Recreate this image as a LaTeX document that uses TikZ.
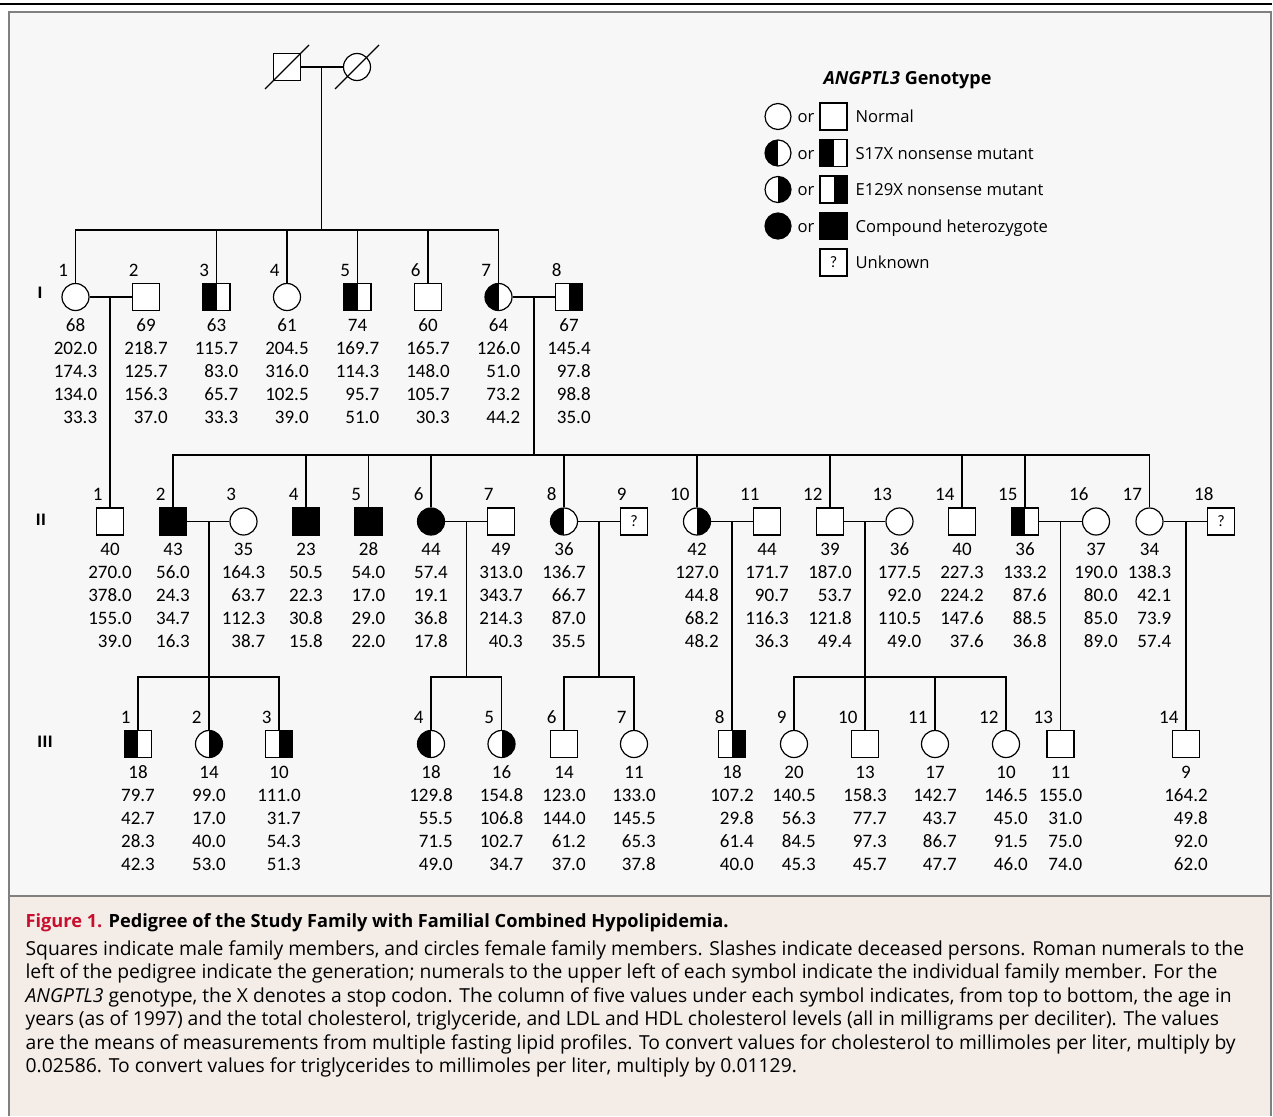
\documentclass[tikz,border=0pt]{standalone}
\usepackage{fontspec}
\setmainfont{Open Sans}
\newfontfamily\numfont{Carlito}

\definecolor{pedbg}{HTML}{F7F7F7}
\definecolor{capbg}{HTML}{F3ECE7}
\definecolor{figred}{HTML}{C8102E}
\definecolor{framegray}{HTML}{808080}

\tikzset{
  male/.style={draw, rectangle, minimum size=27, inner sep=0, fill=white},
  female/.style={draw, circle, minimum size=27, inner sep=0, fill=white},
  sx/.style={path picture={\fill[black] (path picture bounding box.south west) rectangle (path picture bounding box.north);}},
  ex/.style={path picture={\fill[black] (path picture bounding box.south) rectangle (path picture bounding box.north east);}},
  cx/.style={fill=black},
  num/.style={font=\numfont\fontsize{19}{23}\selectfont, inner sep=0, anchor=base east},
  vals/.style={font=\numfont\fontsize{19}{23}\selectfont, inner sep=0, anchor=base},
  gen/.style={font=\bfseries\fontsize{16}{20}\selectfont, inner sep=0},
  leg/.style={font=\fontsize{16.6}{21}\selectfont, inner sep=0, anchor=base west},
  captxt/.style={font=\fontsize{19.3}{23.5}\selectfont, inner sep=0, anchor=base west},
}

% person symbol with its number at the upper left
\newcommand{\mem}[6][]{%
  \node[#5] (#2) at (#3,#4) {#1};
  \node[num] (#2n) at (#3-7,#4-21) {#6};}
% age and lipid values under a symbol
\newcommand{\lipids}[6]{%
  \node[vals] (#1v) at ([yshift=-34pt]#1.center)
    {\begin{tabular}[t]{@{}r@{}}\multicolumn{1}{@{}c@{}}{#2}\\#3\\#4\\#5\\#6\end{tabular}};}
\newcommand{\unk}{{\numfont\fontsize{16}{16}\selectfont ?}}

\begin{document}
\begin{tikzpicture}[x=1pt, y=-1pt, line width=1.2pt]
  \useasboundingbox (0,0) rectangle (1273,1116);

  % Panels
  \fill[pedbg] (9,12) rectangle (1271,896);
  \fill[capbg] (9,896) rectangle (1271,1116);
  \draw[framegray, line width=1.6pt] (9,1116) -- (9,12) -- (1271,12) -- (1271,1116);
  \draw[framegray, line width=1.6pt] (9,896) -- (1271,896);
  \draw[line width=1.5pt] (0,4) -- (1272,4);

  % Founders
  \node[male] (gf) at (287,67) {};
  \node[female] (gm) at (357,67) {};
  \draw (gf.center) ++(-22,22) -- ++(44,-44);
  \draw (gm.center) ++(-22,22) -- ++(44,-44);

  % Generation I
  \node[gen] (gI) at (40,293) {I};
  \mem{I1}{75.5}{297}{female}{1}   \lipids{I1}{68}{202.0}{174.3}{134.0}{33.3}
  \mem{I2}{146}{297}{male}{2}      \lipids{I2}{69}{218.7}{125.7}{156.3}{37.0}
  \mem{I3}{216.5}{297}{male,sx}{3} \lipids{I3}{63}{115.7}{83.0}{65.7}{33.3}
  \mem{I4}{287}{297}{female}{4}    \lipids{I4}{61}{204.5}{316.0}{102.5}{39.0}
  \mem{I5}{357.5}{297}{male,sx}{5} \lipids{I5}{74}{169.7}{114.3}{95.7}{51.0}
  \mem{I6}{428}{297}{male}{6}      \lipids{I6}{60}{165.7}{148.0}{105.7}{30.3}
  \mem{I7}{498.5}{297}{female,sx}{7} \lipids{I7}{64}{126.0}{51.0}{73.2}{44.2}
  \mem{I8}{569}{297}{male,ex}{8}   \lipids{I8}{67}{145.4}{97.8}{98.8}{35.0}

  % Generation II
  \node[gen] (gII) at (41,519.5) {II};
  \mem{II1}{110}{521.5}{male}{1}      \lipids{II1}{40}{270.0}{378.0}{155.0}{39.0}
  \mem{II2}{173}{521.5}{male,cx}{2}   \lipids{II2}{43}{56.0}{24.3}{34.7}{16.3}
  \mem{II3}{243.5}{521.5}{female}{3}  \lipids{II3}{35}{164.3}{63.7}{112.3}{38.7}
  \mem{II4}{306}{521.5}{male,cx}{4}   \lipids{II4}{23}{50.5}{22.3}{30.8}{15.8}
  \mem{II5}{368.5}{521.5}{male,cx}{5} \lipids{II5}{28}{54.0}{17.0}{29.0}{22.0}
  \mem{II6}{431}{521.5}{female,cx}{6} \lipids{II6}{44}{57.4}{19.1}{36.8}{17.8}
  \mem{II7}{501}{521.5}{male}{7}      \lipids{II7}{49}{313.0}{343.7}{214.3}{40.3}
  \mem{II8}{564}{521.5}{female,sx}{8} \lipids{II8}{36}{136.7}{66.7}{87.0}{35.5}
  \mem[\unk]{II9}{634}{521.5}{male}{9}
  \mem{II10}{697}{521.5}{female,ex}{10} \lipids{II10}{42}{127.0}{44.8}{68.2}{48.2}
  \mem{II11}{767}{521.5}{male}{11}      \lipids{II11}{44}{171.7}{90.7}{116.3}{36.3}
  \mem{II12}{830}{521.5}{male}{12}      \lipids{II12}{39}{187.0}{53.7}{121.8}{49.4}
  \mem{II13}{899.5}{521.5}{female}{13}  \lipids{II13}{36}{177.5}{92.0}{110.5}{49.0}
  \mem{II14}{962}{521.5}{male}{14}      \lipids{II14}{40}{227.3}{224.2}{147.6}{37.6}
  \mem{II15}{1025}{521.5}{male,sx}{15}  \lipids{II15}{36}{133.2}{87.6}{88.5}{36.8}
  \mem{II16}{1096}{521.5}{female}{16}   \lipids{II16}{37}{190.0}{80.0}{85.0}{89.0}
  \mem{II17}{1149.5}{521.5}{female}{17} \lipids{II17}{34}{138.3}{42.1}{73.9}{57.4}
  \mem[\unk]{II18}{1221}{521.5}{male}{18}

  % Generation III
  \node[gen] (gIII) at (45,741.5) {III};
  \mem{III1}{138}{744}{male,sx}{1}     \lipids{III1}{18}{79.7}{42.7}{28.3}{42.3}
  \mem{III2}{209}{744}{female,ex}{2}   \lipids{III2}{14}{99.0}{17.0}{40.0}{53.0}
  \mem{III3}{279}{744}{male,ex}{3}     \lipids{III3}{10}{111.0}{31.7}{54.3}{51.3}
  \mem{III4}{431}{744}{female,sx}{4}   \lipids{III4}{18}{129.8}{55.5}{71.5}{49.0}
  \mem{III5}{501.5}{744}{female,ex}{5} \lipids{III5}{16}{154.8}{106.8}{102.7}{34.7}
  \mem{III6}{564}{744}{male}{6}        \lipids{III6}{14}{123.0}{144.0}{61.2}{37.0}
  \mem{III7}{634}{744}{female}{7}      \lipids{III7}{11}{133.0}{145.5}{65.3}{37.8}
  \mem{III8}{732}{744}{male,ex}{8}     \lipids{III8}{18}{107.2}{29.8}{61.4}{40.0}
  \mem{III9}{794}{744}{female}{9}      \lipids{III9}{20}{140.5}{56.3}{84.5}{45.3}
  \mem{III10}{865}{744}{male}{10}      \lipids{III10}{13}{158.3}{77.7}{97.3}{45.7}
  \mem{III11}{935}{744}{female}{11}    \lipids{III11}{17}{142.7}{43.7}{86.7}{47.7}
  \mem{III12}{1006}{744}{female}{12}   \lipids{III12}{10}{146.5}{45.0}{91.5}{46.0}
  \mem{III13}{1060.5}{744}{male}{13}   \lipids{III13}{11}{155.0}{31.0}{75.0}{74.0}
  \mem{III14}{1186}{744}{male}{14}     \lipids{III14}{9}{164.2}{49.8}{92.0}{62.0}

  % Lines of descent
  \draw (gf) -- (gm);
  \coordinate (c0) at (321.5,67);
  \coordinate (s0) at (321.5,230);
  \draw (c0) -- (s0);
  \draw (I1) |- (s0) -| (I7);
  \foreach \k in {3,4,5,6} \draw (s0 -| I\k) -- (I\k);

  \draw (I1) -- (I2);
  \coordinate (c1) at (110,297);
  \draw (c1) -- (II1);
  \draw (I7) -- (I8);
  \coordinate (c7) at (534,297);
  \coordinate (s7) at (534,455);
  \draw (c7) -- (s7);
  \draw (II2) |- (s7) -| (II17);
  \foreach \k in {4,5,6,8,10,12,14,15} \draw (s7 -| II\k) -- (II\k);

  \draw (II2) -- (II3);
  \coordinate (c2) at (209,521.5);
  \coordinate (s2) at (209,677);
  \draw (c2) -- (III2);
  \draw (III1) |- (s2) -| (III3);
  \draw (II6) -- (II7);
  \coordinate (c6) at (466.5,521.5);
  \coordinate (s6) at (466.5,677);
  \draw (c6) -- (s6);
  \draw (III4) |- (s6) -| (III5);
  \draw (II8) -- (II9);
  \coordinate (c8) at (599,521.5);
  \coordinate (s8) at (599,677);
  \draw (c8) -- (s8);
  \draw (III6) |- (s8) -| (III7);
  \draw (II10) -- (II11);
  \coordinate (c10) at (732,521.5);
  \draw (c10) -- (III8);
  \draw (II12) -- (II13);
  \coordinate (c12) at (865,521.5);
  \coordinate (s12) at (865,677);
  \draw (c12) -- (III10);
  \draw (III9) |- (s12) -| (III12);
  \draw (s12 -| III11) -- (III11);
  \draw (II15) -- (II16);
  \coordinate (c15) at (1060.5,521.5);
  \draw (c15) -- (III13);
  \draw (II17) -- (II18);
  \coordinate (c17) at (1186,521.5);
  \draw (c17) -- (III14);

  % Legend
  \node[font=\bfseries\fontsize{18}{22}\selectfont, inner sep=0] (legt) at (907.5,80) {\textit{ANGPTL3} Genotype};
  \node[female, minimum size=26] (lf1) at (778,116.5) {};
  \node[leg, anchor=base] (lo1) at (806,122.7) {or};
  \node[male] (lm1) at (833.5,116.5) {};
  \node[leg] (lt1) at (855,122.7) {Normal};
  \node[female, sx, minimum size=26] (lf2) at (778,153) {};
  \node[leg, anchor=base] (lo2) at (806,159.2) {or};
  \node[male, sx] (lm2) at (833.5,153) {};
  \node[leg] (lt2) at (855,159.2) {S17X nonsense mutant};
  \node[female, ex, minimum size=26] (lf3) at (778,189.5) {};
  \node[leg, anchor=base] (lo3) at (806,195.7) {or};
  \node[male, ex] (lm3) at (833.5,189.5) {};
  \node[leg] (lt3) at (855,195.7) {E129X nonsense mutant};
  \node[female, cx, minimum size=26] (lf4) at (778,226) {};
  \node[leg, anchor=base] (lo4) at (806,232.2) {or};
  \node[male, cx] (lm4) at (833.5,226) {};
  \node[leg] (lt4) at (855,232.2) {Compound heterozygote};
  \node[male] (lm5) at (833.5,262.5) {\unk};
  \node[leg] (lt5) at (855,268.7) {Unknown};

  % Caption
  \node[captxt, font=\bfseries\fontsize{18.2}{23.5}\selectfont] (ttl) at (25,927) {\textcolor{figred}{Figure 1.} Pedigree of the Study Family with Familial Combined Hypolipidemia.};
  \node[captxt] (l1) at (25,955) {Squares indicate male family members, and circles female family members. Slashes indicate deceased persons. Roman numerals to the};
  \node[captxt] (l2) at (25,978.5) {left of the pedigree indicate the generation; numerals to the upper left of each symbol indicate the individual family member. For the};
  \node[captxt] (l3) at (25,1002) {\textit{ANGPTL3} genotype, the X denotes a stop codon. The column of five values under each symbol indicates, from top to bottom, the age in};
  \node[captxt] (l4) at (25,1025.5) {years (as of 1997) and the total cholesterol, triglyceride, and LDL and HDL cholesterol levels (all in milligrams per deciliter). The values};
  \node[captxt] (l5) at (25,1049) {are the means of measurements from multiple fasting lipid profiles. To convert values for cholesterol to millimoles per liter, multiply by};
  \node[captxt] (l6) at (25,1072.5) {0.02586. To convert values for triglycerides to millimoles per liter, multiply by 0.01129.};
\end{tikzpicture}
\end{document}
